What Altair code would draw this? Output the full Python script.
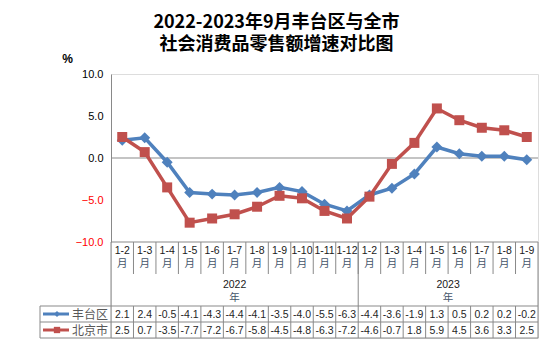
import altair as alt
import pandas as pd

months_2022 = ["1-2", "1-3", "1-4", "1-5", "1-6", "1-7", "1-8", "1-9", "1-10", "1-11", "1-12"]
months_2023 = ["1-2", "1-3", "1-4", "1-5", "1-6", "1-7", "1-8", "1-9"]
fengtai = [2.1, 2.4, -0.5, -4.1, -4.3, -4.4, -4.1, -3.5, -4.0, -5.5, -6.3,
           -4.4, -3.6, -1.9, 1.3, 0.5, 0.2, 0.2, -0.2]
beijing = [2.5, 0.7, -3.5, -7.7, -7.2, -6.7, -5.8, -4.5, -4.8, -6.3, -7.2,
           -4.6, -0.7, 1.8, 5.9, 4.5, 3.6, 3.3, 2.5]
years = ["2022", "2023"]
series_names = ["丰台区", "北京市"]
y_ticks = [-10, -5, 0, 5, 10]

BLUE = "#4F81BD"
RED = "#C0504D"
GRID = "#898989"
SLATE = "#44546A"
FONT = "Liberation Sans"
CJK = "Noto Sans CJK SC"

keys = [f"{years[0]}|{m}" for m in months_2022] + [f"{years[1]}|{m}" for m in months_2023]
month_labels = months_2022 + months_2023
n = len(keys)

df = pd.DataFrame({
    "key": keys * 2,
    "month": month_labels * 2,
    "series": [series_names[0]] * n + [series_names[1]] * n,
    "value": fengtai + beijing,
})
df["text"] = df["value"].map(lambda v: f"{v:.1f}")

W, H = 427, 264
PH = 168  # plot (line area) height

xscale = alt.Scale(type="band", domain=keys, paddingInner=0, paddingOuter=0)


def X(bp=0.5):
    return alt.X("key:N", scale=xscale, axis=None, bandPosition=bp)


yscale = alt.Scale(domain=[-10, 10], range=[PH, 0])

base = alt.Chart(df)
ft = base.transform_filter(alt.datum.series == series_names[0])
bj = base.transform_filter(alt.datum.series == series_names[1])
first = lambda c: c.transform_filter(alt.datum.key == keys[0])

yaxis = alt.Axis(
    values=y_ticks, format=".1f", grid=False, ticks=False, labelPadding=8,
    labelFontSize=11, labelFont=FONT,
    labelColor={"condition": {"test": "datum.value < 0", "value": "#FF0000"}, "value": "#000000"},
    domainColor=GRID, domainWidth=1,
    title="%", titleAngle=0, titleX=-44, titleY=-16, titleAlign="center",
    titleBaseline="middle", titleFontSize=12, titleFont=FONT, titleFontWeight="bold",
    titleColor="#000000",
)

zero = first(ft).transform_calculate(z="0").mark_rule(color=GRID, strokeWidth=1).encode(
    y=alt.Y("z:Q", scale=yscale, axis=yaxis),
    x=alt.value(0), x2=alt.value(W),
)

line_ft = ft.mark_line(color=BLUE, strokeWidth=3.5).encode(x=X(), y=alt.Y("value:Q", scale=yscale))
pt_ft = ft.mark_point(shape="diamond", filled=True, size=120, color=BLUE, opacity=1).encode(
    x=X(), y=alt.Y("value:Q", scale=yscale))
line_bj = bj.mark_line(color=RED, strokeWidth=3.5).encode(x=X(), y=alt.Y("value:Q", scale=yscale))
pt_bj = bj.mark_point(shape="square", filled=True, size=100, color=RED, opacity=1).encode(
    x=X(), y=alt.Y("value:Q", scale=yscale))

# table grid
hline = lambda yv, x0: first(ft).mark_rule(color=GRID, strokeWidth=1).encode(
    x=alt.value(x0), x2=alt.value(W), y=alt.value(yv))
h_axis = hline(PH, 0)
h_t1 = hline(232, -71)
h_t2 = hline(248, -71)
h_t3 = hline(264, -71)

v_left = first(ft).mark_rule(color=GRID).encode(x=X(0), y=alt.value(PH), y2=alt.value(H))
v_right = ft.transform_filter(alt.datum.key == keys[-1]).mark_rule(color=GRID).encode(
    x=X(1), y=alt.value(PH), y2=alt.value(H))
v_year = ft.transform_filter(alt.datum.key == keys[len(months_2022)]).mark_rule(color=GRID).encode(
    x=X(0), y=alt.value(PH), y2=alt.value(232))
v_months = ft.transform_filter(alt.datum.key != keys[0]).mark_rule(color=GRID).encode(
    x=X(0), y=alt.value(PH), y2=alt.value(200))
v_cells = ft.transform_filter(alt.datum.key != keys[0]).mark_rule(color=GRID).encode(
    x=X(0), y=alt.value(232), y2=alt.value(H))
v_leg = first(ft).mark_rule(color=GRID).encode(x=alt.value(-71), y=alt.value(232), y2=alt.value(H))

month_txt = ft.mark_text(fontSize=10.5, font=FONT, baseline="middle", color="#1A1A1A").encode(
    x=X(), y=alt.value(176.5), text="month:N")
yue_txt = ft.transform_calculate(yue="'月'").mark_text(
    fontSize=10.5, font=CJK, baseline="middle", color=SLATE).encode(
    x=X(), y=alt.value(189.5), text="yue:N")


def year_layer(idx, key, bp):
    sub = ft.transform_filter(alt.datum.key == key)
    num = sub.transform_calculate(yl=f"'{years[idx]}'").mark_text(
        fontSize=10.5, font=FONT, baseline="middle", color="#1A1A1A").encode(
        x=X(bp), y=alt.value(211), text="yl:N")
    nian = sub.transform_calculate(yl="'年'").mark_text(
        fontSize=10.5, font=CJK, baseline="middle", color=SLATE).encode(
        x=X(bp), y=alt.value(223.5), text="yl:N")
    return num, nian


y22a, y22b = year_layer(0, keys[5], 0.5)
y23a, y23b = year_layer(1, keys[len(months_2022) + 4], 0)

val_ft = ft.mark_text(fontSize=10.5, font=FONT, baseline="middle", color="#1F1F1F").encode(
    x=X(), y=alt.value(240.5), text="text:N")
val_bj = bj.mark_text(fontSize=10.5, font=FONT, baseline="middle", color="#1F1F1F").encode(
    x=X(), y=alt.value(256.5), text="text:N")

# legend cells
leg_line_ft = first(ft).mark_rule(color=BLUE, strokeWidth=3).encode(
    x=alt.value(-68), x2=alt.value(-42), y=alt.value(240))
leg_pt_ft = first(ft).mark_point(shape="diamond", filled=True, size=36, color=BLUE, opacity=1).encode(
    x=alt.value(-54), y=alt.value(240))
leg_txt_ft = first(ft).mark_text(fontSize=12, font=CJK, align="right", baseline="middle",
                                 color="#595959").encode(
    x=alt.value(-3), y=alt.value(240.5), text="series:N")
leg_line_bj = first(bj).mark_rule(color=RED, strokeWidth=3).encode(
    x=alt.value(-68), x2=alt.value(-42), y=alt.value(256))
leg_pt_bj = first(bj).mark_point(shape="square", filled=True, size=40, color=RED, opacity=1).encode(
    x=alt.value(-54), y=alt.value(256))
leg_txt_bj = first(bj).mark_text(fontSize=12, font=CJK, align="right", baseline="middle",
                                 color="#595959").encode(
    x=alt.value(-3), y=alt.value(256.5), text="series:N")

chart = alt.layer(
    zero, h_axis, h_t1, h_t2, h_t3, v_left, v_right, v_year, v_months, v_cells, v_leg,
    line_ft, pt_ft, line_bj, pt_bj,
    month_txt, yue_txt, y22a, y22b, y23a, y23b, val_ft, val_bj,
    leg_line_ft, leg_pt_ft, leg_txt_ft, leg_line_bj, leg_pt_bj, leg_txt_bj,
).properties(
    width=W, height=H,
    title=alt.TitleParams(
        text=["2022-2023年9月丰台区与全市", "社会消费品零售额增速对比图"],
        font=CJK, fontSize=18, fontWeight="bold", lineHeight=22, color="#000000",
        anchor="middle", dx=-48, dy=22, offset=20,
    ),
    autosize=alt.AutoSizeParams(type="none"),
    padding={"left": 111, "top": 74, "right": 16, "bottom": 16},
).configure_view(stroke=None).configure(background="white")

chart.save("out.html", embed_options={"renderer": "svg", "actions": False})
